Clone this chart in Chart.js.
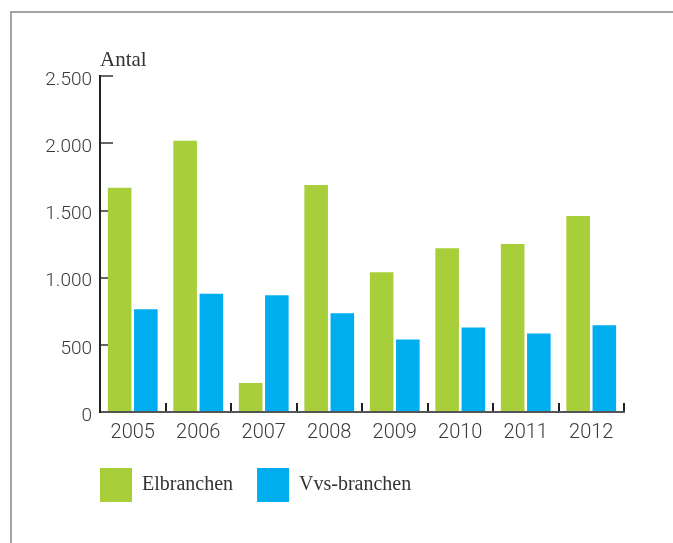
<!DOCTYPE html>
<html>
<head>
<meta charset="utf-8">
<script src="https://cdn.jsdelivr.net/npm/chart.js@4"></script>
<style>
  html, body { margin: 0; padding: 0; overflow: hidden; background: #fff; }
  #frame {
    position: absolute; left: 10px; top: 11px;
    width: 700px; height: 600px;
    border: 2px solid #a3a3a3;
  }
  #chart { position: absolute; left: 0; top: 0; }
</style>
</head>
<body>
<div id="frame"></div>
<canvas id="chart" width="673" height="543"></canvas>
<script>
// chart data
const years       = ['2005', '2006', '2007', '2008', '2009', '2010', '2011', '2012'];
const elbranchen  = [1670, 2020, 215, 1690, 1040, 1220, 1250, 1460];
const vvsbranchen = [765, 880, 870, 735, 540, 630, 585, 645];
const seriesNames = ['Elbranchen', 'Vvs-branchen'];
const yTicks = { min: 0, max: 2500, step: 500 };

const GREEN = '#a8ce3a';
const BLUE  = '#00aeef';
const SANS  = 'Roboto, "Open Sans", sans-serif';
const SERIF = '"Liberation Serif", "DejaVu Serif", serif';

// "2500" -> "2.500"
function danish(v) {
    return String(v).replace(/\B(?=(\d{3})+(?!\d))/g, '.');
}

// legend starts flush with the y axis instead of one padding to the right
const legendFlush = {
    id: 'legendFlush',
    afterLayout(chart) {
        const lg = chart.legend;
        if (lg) lg.left -= lg.options.labels.padding;
    }
};

new Chart(document.getElementById('chart'), {
    type: 'bar',
    plugins: [legendFlush],
    data: {
        labels: years,
        datasets: [{
            label: seriesNames[0],
            data: elbranchen,
            backgroundColor: GREEN,
            borderWidth: 0
        }, {
            label: seriesNames[1],
            data: vvsbranchen,
            backgroundColor: BLUE,
            borderWidth: 0
        }]
    },
    options: {
        responsive: false,
        animation: false,
        categoryPercentage: 0.80,
        barPercentage: 0.90,
        layout: { padding: { left: 0, right: 49, top: 0, bottom: 31 } },
        plugins: {
            tooltip: { enabled: false },
            title: {
                display: true,
                text: 'Antal',
                align: 'start',
                fullSize: false,
                color: '#333',
                font: { family: SERIF, size: 21, weight: 'normal' },
                padding: { top: 48, bottom: 3 }
            },
            legend: {
                position: 'bottom',
                align: 'start',
                fullSize: false,
                labels: {
                    boxWidth: 32,
                    boxHeight: 34,
                    padding: 24,
                    color: '#333',
                    font: { family: SERIF, size: 20 }
                }
            }
        },
        scales: {
            x: {
                offset: true,
                grid: {
                    offset: true,
                    drawOnChartArea: false,
                    drawTicks: true,
                    tickLength: -9,
                    color: '#222',
                    lineWidth: 2
                },
                border: { display: true, color: '#555', width: 2 },
                ticks: {
                    color: '#3a3a3a',
                    padding: 18,
                    font: { family: SANS, size: 20, weight: 300 }
                },
                afterFit: (scale) => { scale.height = 32; }
            },
            y: {
                min: yTicks.min,
                max: yTicks.max,
                grid: {
                    drawOnChartArea: false,
                    drawTicks: true,
                    tickLength: -13,
                    color: '#666',
                    lineWidth: 2
                },
                border: { display: true, color: '#222', width: 2 },
                ticks: {
                    stepSize: yTicks.step,
                    color: '#3a3a3a',
                    padding: 21,
                    labelOffset: 4,
                    font: { family: SANS, size: 19, weight: 300 },
                    callback: (v) => danish(v)
                },
                afterFit: (scale) => { scale.width = 100; }
            }
        }
    }
});
</script>
</body>
</html>
